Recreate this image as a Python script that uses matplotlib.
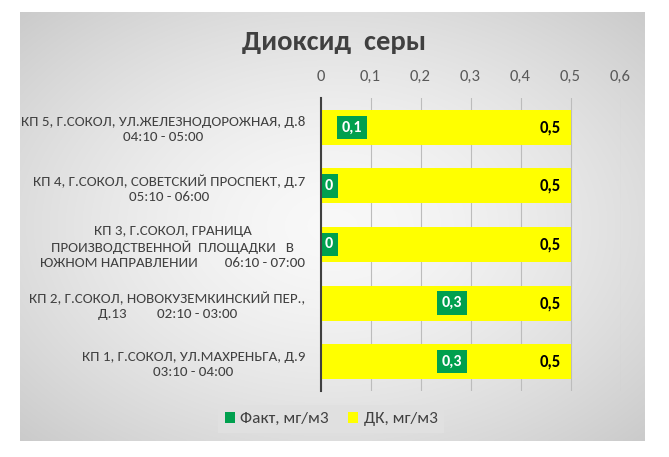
import numpy as np
import matplotlib
matplotlib.use("Agg")
import matplotlib.pyplot as plt

plt.rcParams['font.family'] = ['Carlito', 'DejaVu Sans']

categories = [
    "КП 1, Г.СОКОЛ, УЛ.МАХРЕНЬГА, Д.9\n03:10 - 04:00",
    "КП 2, Г.СОКОЛ, НОВОКУЗЕМКИНСКИЙ ПЕР.,\nД.13         02:10 - 03:00",
    "КП 3, Г.СОКОЛ, ГРАНИЦА\nПРОИЗВОДСТВЕННОЙ  ПЛОЩАДКИ   В\nЮЖНОМ НАПРАВЛЕНИИ        06:10 - 07:00",
    "КП 4, Г.СОКОЛ, СОВЕТСКИЙ ПРОСПЕКТ, Д.7\n05:10 - 06:00",
    "КП 5, Г.СОКОЛ, УЛ.ЖЕЛЕЗНОДОРОЖНАЯ, Д.8\n04:10 - 05:00",
]
fact = [0.3, 0.3, 0, 0, 0.1]
limit = [0.5, 0.5, 0.5, 0.5, 0.5]
fact_labels = ["0,3", "0,3", "0", "0", "0,1"]
limit_labels = ["0,5", "0,5", "0,5", "0,5", "0,5"]
ticks = [0, 0.1, 0.2, 0.3, 0.4, 0.5, 0.6]
tick_labels = ["0", "0,1", "0,2", "0,3", "0,4", "0,5", "0,6"]

green = '#00a04e'
yellow = '#ffff00'
text_col = '#404040'

fig = plt.figure(figsize=(6.69, 4.57), dpi=100)

# серая подложка с радиальным градиентом
bg = fig.add_axes([20/669, 1-441/457, 625/669, 429/457])
yy, xx = np.mgrid[-1:1:200j, -1:1:300j]
r = np.sqrt(xx**2 + yy**2) / np.sqrt(2)
shade = 0.975 - 0.18 * r**1.5
bg.imshow(np.dstack([shade]*3), aspect='auto', extent=[0, 1, 0, 1], interpolation='bilinear')
bg.set_axis_off()

ax = fig.add_axes([320.5/669, 1-391/457, 300/669, 293/457])
ax.patch.set_alpha(0)
y = np.arange(len(categories))
ax.barh(y, fact, height=0.6, color=green, label='Факт, мг/м3', zorder=2)
ax.barh(y, limit, height=0.6, color=yellow, label='ДК, мг/м3', zorder=3)

for i in range(len(categories)):
    if fact[i] > 0.02:
        ax.text(fact[i] - 0.016, y[i], fact_labels[i], ha='right', va='center', color='white',
                fontsize=11.5, fontweight='bold', zorder=5,
                bbox=dict(boxstyle='square,pad=0.3', fc=green, ec='none'))
    else:
        ax.text(0.009, y[i], fact_labels[i], ha='left', va='center', color='white',
                fontsize=11.5, fontweight='bold', zorder=5,
                bbox=dict(boxstyle='square,pad=0.3', fc=green, ec='none'))
    ax.text(limit[i] - 0.019, y[i], limit_labels[i], ha='right', va='center', color='black',
            fontsize=12, fontweight='bold', zorder=5)

ax.set_xlim(0, 0.6)
ax.set_ylim(-0.5, len(categories) - 0.5)
ax.set_xticks(ticks)
ax.set_xticklabels(tick_labels)
ax.xaxis.tick_top()
ax.tick_params(axis='x', length=0, pad=10, labelsize=12, labelcolor='#595959')
ax.set_yticks(y)
ax.set_yticklabels(categories, multialignment='center', linespacing=1.3)
ax.tick_params(axis='y', length=0, pad=11, labelsize=10.8, labelcolor=text_col)
ax.grid(axis='x', color='#bcbcbc', linewidth=0.8, zorder=0)
for s in ['top', 'right', 'bottom']:
    ax.spines[s].set_visible(False)
ax.spines['left'].set_color('#404040')
ax.spines['left'].set_linewidth(1.5)
ax.spines['left'].set_zorder(6)

fig.text(0.5, 1-42/457, 'Диоксид  серы', ha='center', va='center', fontsize=20.5,
         fontweight='bold', color=text_col)

leg = fig.legend(loc='center', bbox_to_anchor=(331/669, 1-419/457), ncol=2, frameon=True,
                 fontsize=12.5, handlelength=0.6, handleheight=0.6, handletextpad=0.3,
                 columnspacing=1.1, borderpad=0.4, fancybox=False)
leg.get_frame().set_facecolor('#e0e0e0')
leg.get_frame().set_edgecolor('none')
leg.get_frame().set_alpha(1)
for t in leg.get_texts():
    t.set_color(text_col)

fig.savefig('out.png', dpi=100)
